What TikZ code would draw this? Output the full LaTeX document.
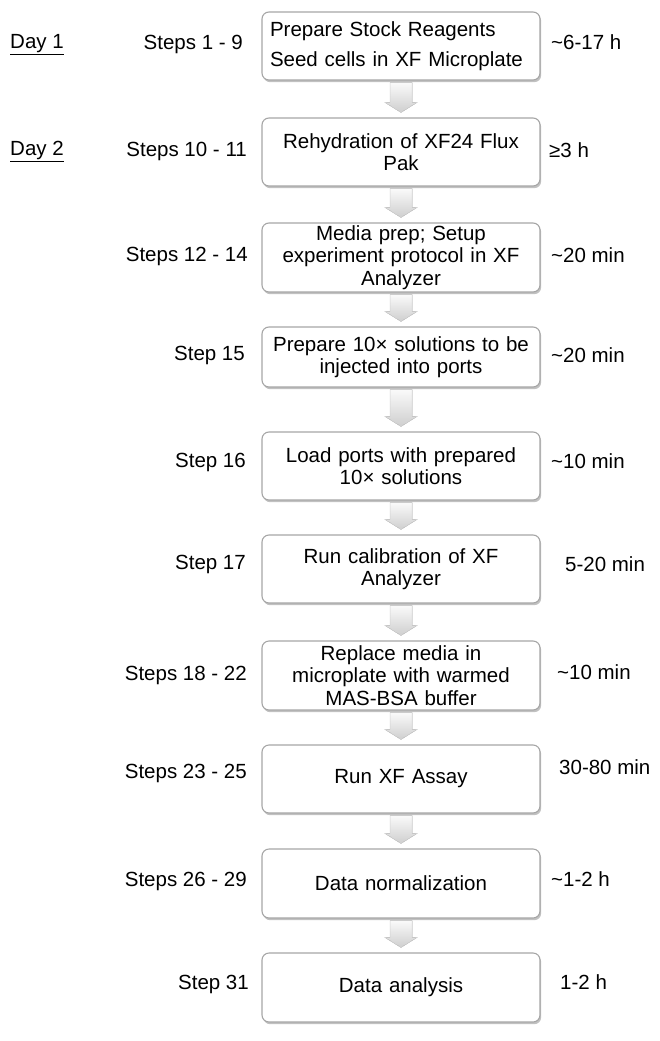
\documentclass[tikz,border=0pt]{standalone}
\usepackage{fontspec}
\setmainfont{Liberation Sans}
\usetikzlibrary{shadows,calc}
\newcommand\myfs{\fontsize{20.5}{22.5}\selectfont}
\newcommand\flowarrow[2]{%
  \filldraw[top color=gray!4, bottom color=gray!38, draw=gray!35, line width=0.5pt]
  ($(#1.south)+(-11,2)$) -- ($(#2.north)+(-11,-15)$) -- ($(#2.north)+(-16,-15)$)
  -- ($(#2.north)+(0,-5)$) -- ($(#2.north)+(16,-15)$) -- ($(#2.north)+(11,-15)$)
  -- ($(#1.south)+(11,2)$) -- cycle;}
\begin{document}
\begin{tikzpicture}[x=1pt,y=-1pt,
  stepbox/.style={draw=gray!70, line width=1.1pt, rounded corners=7pt, fill=white,
    minimum width=278pt, align=center, text width=262pt, inner sep=0pt, font=\myfs,
    drop shadow={shadow xshift=1.2pt, shadow yshift=-2.2pt, opacity=0.35, fill=black!70}},
  lab/.style={font=\myfs, inner sep=0pt, text height=14.7pt, text depth=0pt},
  leftlab/.style={lab, anchor=east},
  rightlab/.style={lab, anchor=west}
]
\useasboundingbox (0,0) rectangle (659,1041);

% boxes
\node[stepbox, minimum height=68pt, align=left] (b1) at (401,46)
  {Prepare Stock Reagents\\[7.5pt]Seed cells in XF Microplate};
\node[stepbox, minimum height=68pt] (b2) at (401,152) {Rehydration of XF24 Flux\\Pak};
\node[stepbox, minimum height=69pt] (b3) at (401,257.5) {Media prep; Setup\\experiment protocol in XF\\Analyzer};
\node[stepbox, minimum height=60pt] (b4) at (401,357) {Prepare 10× solutions to be\\injected into ports};
\node[stepbox, minimum height=68pt] (b5) at (401,466) {Load ports with prepared\\10× solutions};
\node[stepbox, minimum height=68pt] (b6) at (401,569) {Run calibration of XF\\Analyzer};
\node[stepbox, minimum height=69pt] (b7) at (401,675.5) {Replace media in\\microplate with warmed\\MAS-BSA buffer};
\node[stepbox, minimum height=68pt] (b8) at (401,779) {Run XF Assay};
\node[stepbox, minimum height=69pt] (b9) at (401,883.5) {Data normalization};
\node[stepbox, minimum height=69pt] (b10) at (401,987.5) {Data analysis};

% arrows
\flowarrow{b1}{b2}
\flowarrow{b2}{b3}
\flowarrow{b3}{b4}
\flowarrow{b4}{b5}
\flowarrow{b5}{b6}
\flowarrow{b6}{b7}
\flowarrow{b7}{b8}
\flowarrow{b8}{b9}
\flowarrow{b9}{b10}

% day labels
\node[rightlab] (d1) at (10,41) {\underline{Day 1}};
\node[rightlab] (d2) at (10,148) {\underline{Day 2}};

% step labels
\node[leftlab] (s1) at (243,42) {Steps 1 - 9};
\node[leftlab] (s2) at (247,149) {Steps 10 - 11};
\node[leftlab] (s3) at (248,254) {Steps 12 - 14};
\node[leftlab] (s4) at (245,353) {Step 15};
\node[leftlab] (s5) at (246,460) {Step 16};
\node[leftlab] (s6) at (246,562) {Step 17};
\node[leftlab] (s7) at (247,673) {Steps 18 - 22};
\node[leftlab] (s8) at (247,771) {Steps 23 - 25};
\node[leftlab] (s9) at (247,879) {Steps 26 - 29};
\node[leftlab] (s10) at (249,982) {Step 31};

% durations
\node[rightlab] (t1) at (551,42) {\textasciitilde 6-17 h};
\node[rightlab] (t2) at (549,150) {≥3 h};
\node[rightlab] (t3) at (551,255) {\textasciitilde 20 min};
\node[rightlab] (t4) at (551,355) {\textasciitilde 20 min};
\node[rightlab] (t5) at (551,461) {\textasciitilde 10 min};
\node[rightlab] (t6) at (565,564) {5-20 min};
\node[rightlab] (t7) at (557,672) {\textasciitilde 10 min};
\node[rightlab] (t8) at (559,767) {30-80 min};
\node[rightlab] (t9) at (551,879) {\textasciitilde 1-2 h};
\node[rightlab] (t10) at (560,982) {1-2 h};
\end{tikzpicture}
\end{document}
